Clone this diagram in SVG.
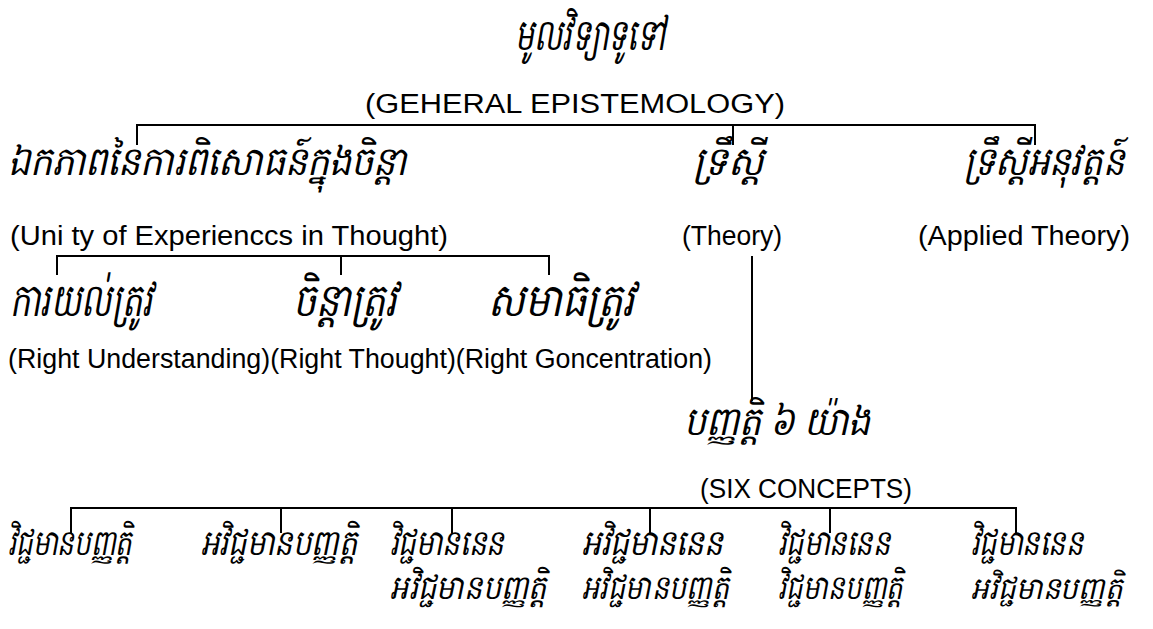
<svg xmlns="http://www.w3.org/2000/svg" width="1153" height="629" viewBox="0 0 1153 629">
<style>
.km{font-family:"Noto Sans","DejaVu Sans",sans-serif;font-style:italic;fill:#000}
.k1{font-size:44px}
.k2{font-size:40px}
.k2b{font-size:46px}
.k3{font-size:36px}
.k4{font-size:34px}
.k5{font-size:31px}
.en{font-family:"Liberation Sans",Arial,sans-serif;font-size:27px;fill:#000}
.ln{fill:none;stroke:#000;stroke-width:2}
</style>
<rect width="1153" height="629" fill="#fff"/>
<g id="connectors" class="ln">
<path d="M137,145 V125 H1035 V145 M733,125 V145"/>
<path d="M57,275 V256 H549 V275 M341,256 V275"/>
<path d="M752,256 V401"/>
<path d="M71,533 V508 H1016 V533 M281,508 V533 M452,508 V533 M650,508 V533 M830,508 V533"/>
</g>
<g id="root">
<text class="km k1" x="515" y="50" textLength="150" lengthAdjust="spacingAndGlyphs">មូលវិទ្យាទូទៅ</text>
<text class="en" x="365" y="113" textLength="420" lengthAdjust="spacingAndGlyphs">(GEHERAL EPISTEMOLOGY)</text>
</g>
<g id="unity">
<text class="km k2" x="8" y="175" textLength="398" lengthAdjust="spacingAndGlyphs">ឯកភាពនៃការពិសោធន៍ក្នុងចិន្តា</text>
<text class="en" x="10" y="245" textLength="438" lengthAdjust="spacingAndGlyphs">(Uni ty of Experienccs in Thought)</text>
</g>
<g id="theory">
<text class="km k2" x="693" y="175" textLength="70" lengthAdjust="spacingAndGlyphs">ទ្រឹស្ដី</text>
<text class="en" x="682" y="245" textLength="100" lengthAdjust="spacingAndGlyphs">(Theory)</text>
</g>
<g id="applied">
<text class="km k2" x="964" y="175" textLength="160" lengthAdjust="spacingAndGlyphs">ទ្រឹស្ដីអនុវត្តន៍</text>
<text class="en" x="918" y="245" textLength="212" lengthAdjust="spacingAndGlyphs">(Applied Theory)</text>
</g>
<g id="right-understanding">
<text class="km k2b" x="10" y="316" textLength="142" lengthAdjust="spacingAndGlyphs">ការយល់ត្រូវ</text>
</g>
<g id="right-thought">
<text class="km k2b" x="293" y="316" textLength="104" lengthAdjust="spacingAndGlyphs">ចិន្តាត្រូវ</text>
</g>
<g id="right-concentration">
<text class="km k2b" x="488" y="316" textLength="147" lengthAdjust="spacingAndGlyphs">សមាធិត្រូវ</text>
</g>
<g id="right-labels">
<text class="en" x="8" y="368" textLength="704" lengthAdjust="spacingAndGlyphs">(Right Understanding)(Right Thought)(Right Goncentration)</text>
</g>
<g id="six-concepts">
<text class="km k2" x="684" y="435" textLength="186" lengthAdjust="spacingAndGlyphs">បញ្ញត្តិ ៦ យ៉ាង</text>
<text class="en" x="700" y="498" textLength="212" lengthAdjust="spacingAndGlyphs">(SIX CONCEPTS)</text>
</g>
<g id="c1">
<text class="km k3" x="8" y="555" textLength="124" lengthAdjust="spacingAndGlyphs">វិជ្ជមានបញ្ញត្តិ</text>
</g>
<g id="c2">
<text class="km k3" x="201" y="555" textLength="156" lengthAdjust="spacingAndGlyphs">អវិជ្ជមានបញ្ញត្តិ</text>
</g>
<g id="c3">
<text class="km k3" x="390" y="555" textLength="114" lengthAdjust="spacingAndGlyphs">វិជ្ជមាននេន</text>
<text class="km k4" x="390" y="599" textLength="157" lengthAdjust="spacingAndGlyphs">អវិជ្ជមានបញ្ញត្តិ</text>
</g>
<g id="c4">
<text class="km k3" x="582" y="555" textLength="141" lengthAdjust="spacingAndGlyphs">អវិជ្ជមាននេន</text>
<text class="km k4" x="582" y="599" textLength="147" lengthAdjust="spacingAndGlyphs">អវិជ្ជមានបញ្ញត្តិ</text>
</g>
<g id="c5">
<text class="km k3" x="778" y="555" textLength="112" lengthAdjust="spacingAndGlyphs">វិជ្ជមាននេន</text>
<text class="km k4" x="778" y="599" textLength="125" lengthAdjust="spacingAndGlyphs">វិជ្ជមានបញ្ញត្តិ</text>
</g>
<g id="c6">
<text class="km k3" x="971" y="555" textLength="112" lengthAdjust="spacingAndGlyphs">វិជ្ជមាននេន</text>
<text class="km k5" x="971" y="599" textLength="152" lengthAdjust="spacingAndGlyphs">អវិជ្ជមានបញ្ញត្តិ</text>
</g>
</svg>
